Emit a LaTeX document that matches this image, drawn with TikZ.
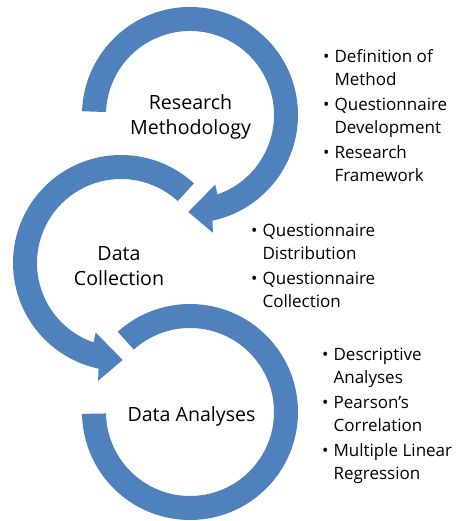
\documentclass[tikz,border=0pt]{standalone}
\usepackage{fontspec}
\setmainfont{Open Sans}
\usepackage{tikz}
\usetikzlibrary{positioning}
\usepackage{xcolor}
\definecolor{ringblue}{HTML}{4F81BD}

\begin{document}
\begin{tikzpicture}[
  x=1pt, y=1pt,
  ring/.style  = {fill=ringblue, draw=none},
  title/.style = {align=center, inner sep=0pt,
                  font=\fontsize{19.6}{25.5}\selectfont},
  items/.style = {anchor=base west, inner sep=0pt,
                  font=\fontsize{17}{23}\selectfont},
]
\useasboundingbox (0,0) rectangle (457,521);

% ---- ring centres ----------------------------------------------------------
\coordinate (c1) at (190,406);
\coordinate (c2) at (121,258);
\coordinate (c3) at (190,109);

% ---- research methodology: clockwise, head at the bottom ------------------
\begin{scope}[shift={(c1)}]
  \fill[ring] (178:108) arc[start angle=178, end angle=-78, radius=108]
    -- (-79:120) -- (-91:97) -- (-70:74) -- (-71:84)
    arc[start angle=-71, end angle=178, radius=84] -- cycle;
\end{scope}

% ---- data collection: anticlockwise, head at the bottom --------------------
\begin{scope}[shift={(c2)}]
  \fill[ring] (47.5:108) arc[start angle=47.5, end angle=258, radius=108]
    -- (259:120) -- (271:97) -- (250:74) -- (251:84)
    arc[start angle=251, end angle=47.5, radius=84] -- cycle;
\end{scope}

% ---- data analyses: open ring, no head -------------------------------------
\begin{scope}[shift={(c3)}]
  \fill[ring] (132:108) arc[start angle=132, end angle=-179, radius=108]
    -- (-179:84) arc[start angle=-179, end angle=132, radius=84] -- cycle;
\end{scope}

% ---- stage names -----------------------------------------------------------
\node[title] (rm) at (190.5,404) {Research\\Methodology};
\node[title] (dc) at (119,255) {Data\\Collection};
\node[title] (da) at (191.5,105) {Data Analyses};

% ---- bullet lists ----------------------------------------------------------
\node[items] (rmlist) at (323,458.3) {%
  \begin{tabular}[t]{@{}l@{\hspace{5pt}}l@{}}
    \textbullet & Definition of\\ & Method\\[2pt]
    \textbullet & Questionnaire\\ & Development\\[2pt]
    \textbullet & Research\\ & Framework
  \end{tabular}};

\node[items] (dclist) at (251,284) {%
  \begin{tabular}[t]{@{}l@{\hspace{5pt}}l@{}}
    \textbullet & Questionnaire\\ & Distribution\\[2pt]
    \textbullet & Questionnaire\\ & Collection
  \end{tabular}};

\node[items] (dalist) at (322,160) {%
  \begin{tabular}[t]{@{}l@{\hspace{5pt}}l@{}}
    \textbullet & Descriptive\\ & Analyses\\[2pt]
    \textbullet & Pearson’s\\ & Correlation\\[2pt]
    \textbullet & Multiple Linear\\ & Regression
  \end{tabular}};

\end{tikzpicture}
\end{document}
